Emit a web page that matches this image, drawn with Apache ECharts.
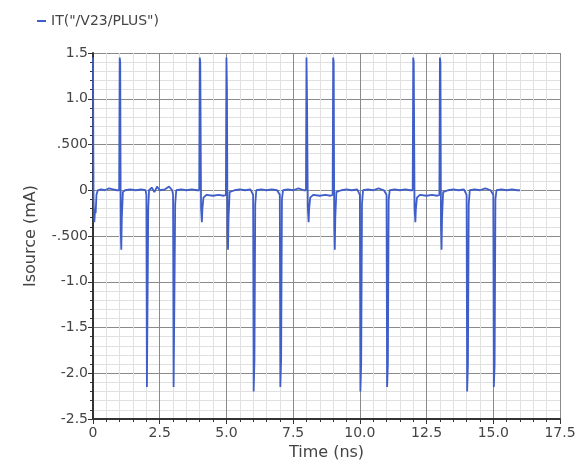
<!DOCTYPE html>
<html>
<head>
<meta charset="utf-8">
<script src="https://cdn.jsdelivr.net/npm/echarts@6/dist/echarts.min.js"></script>
<style>
  html, body { margin: 0; padding: 0; background: #fff; }
  #chart { width: 579px; height: 466px; }
</style>
</head>
<body>
<div id="chart"></div>
<script>
// transient current: time (ns) and Isource (mA)
const seriesName = 'IT("/V23/PLUS")'
const times = [
  0, 0.02, 0.05, 0.08, 0.1, 0.13, 0.18, 0.3, 0.45, 0.6, 0.75, 0.9, 0.98,
  1.0, 1.02, 1.04, 1.06, 1.08, 1.12, 1.2, 1.4, 1.6, 1.8, 1.97,
  2.0, 2.02, 2.05, 2.07, 2.1, 2.2, 2.3, 2.4, 2.5, 2.7, 2.85, 2.97,
  3.0, 3.02, 3.05, 3.08, 3.12, 3.3, 3.5, 3.7, 3.9, 3.98,
  4.0, 4.02, 4.05, 4.08, 4.1, 4.14, 4.25, 4.5, 4.7, 4.9, 4.98,
  5.0, 5.02, 5.04, 5.06, 5.08, 5.12, 5.3, 5.5, 5.7, 5.9, 5.97,
  6.0, 6.02, 6.05, 6.08, 6.12, 6.3, 6.5, 6.7, 6.9, 6.97,
  7.0, 7.02, 7.05, 7.08, 7.12, 7.3, 7.5, 7.7, 7.9, 7.98,
  8.0, 8.02, 8.05, 8.08, 8.1, 8.14, 8.25, 8.5, 8.7, 8.9, 8.98,
  9.0, 9.02, 9.04, 9.06, 9.08, 9.12, 9.3, 9.5, 9.7, 9.9, 9.97,
  10.0, 10.02, 10.05, 10.08, 10.12, 10.3, 10.5, 10.7, 10.9, 10.97,
  11.0, 11.02, 11.05, 11.08, 11.12, 11.3, 11.5, 11.7, 11.9, 11.98,
  12.0, 12.02, 12.05, 12.08, 12.1, 12.14, 12.25, 12.5, 12.7, 12.9, 12.98,
  13.0, 13.02, 13.04, 13.06, 13.08, 13.12, 13.3, 13.5, 13.7, 13.9, 13.97,
  14.0, 14.02, 14.05, 14.08, 14.12, 14.3, 14.5, 14.7, 14.9, 14.97,
  15.0, 15.02, 15.05, 15.08, 15.12, 15.3, 15.5, 15.7, 15.9, 16.0
]
const current = [
  1.45, -0.1, -0.35, -0.2, -0.25, -0.05, 0.0, 0.01, 0.0, 0.02, 0.01, 0.0, 0.0,
  1.45, 1.4, -0.45, -0.65, -0.3, -0.02, 0.0, 0.01, 0.0, 0.01, 0.0,
  -0.05, -2.15, -1.0, -0.2, 0.0, 0.03, -0.02, 0.04, 0.0, 0.01, 0.04, 0.0,
  -0.05, -2.15, -1.2, -0.15, 0.0, 0.01, 0.0, 0.01, 0.0, 0.0,
  1.45, 1.4, -0.2, -0.35, -0.2, -0.08, -0.05, -0.06, -0.05, -0.06, -0.05,
  1.45, 1.1, -0.4, -0.65, -0.3, -0.02, 0.0, 0.01, 0.0, 0.01, 0.0,
  -0.05, -2.2, -1.85, -0.15, 0.0, 0.01, 0.0, 0.01, 0.0, 0.0,
  -0.05, -2.15, -1.85, -0.1, 0.0, 0.01, 0.0, 0.02, 0.0, 0.0,
  1.45, 1.0, -0.2, -0.35, -0.2, -0.08, -0.05, -0.06, -0.05, -0.06, -0.05,
  1.45, 1.4, -0.4, -0.65, -0.3, -0.02, 0.0, 0.01, 0.0, 0.01, 0.0,
  -0.05, -2.2, -1.9, -0.15, 0.0, 0.01, 0.0, 0.02, 0.0, 0.0,
  -0.05, -2.15, -1.9, -0.1, 0.0, 0.01, 0.0, 0.01, 0.0, 0.0,
  1.45, 1.4, -0.2, -0.35, -0.2, -0.08, -0.05, -0.06, -0.05, -0.06, -0.05,
  1.45, 1.4, -0.4, -0.65, -0.3, -0.02, 0.0, 0.01, 0.0, 0.01, 0.0,
  -0.05, -2.2, -1.9, -0.15, 0.0, 0.01, 0.0, 0.02, 0.0, 0.0,
  -0.05, -2.15, -1.9, -0.1, 0.0, 0.01, 0.0, 0.01, 0.0, 0.0
]
const yTickLabels = { '1.5': '1.5', '1': '1.0', '0.5': '.500', '0': '0', '-0.5': '-.500', '-1': '-1.0', '-1.5': '-1.5', '-2': '-2.0', '-2.5': '-2.5' }
const xTickLabels = { '0': '0', '2.5': '2.5', '5': '5.0', '7.5': '7.5', '10': '10.0', '12.5': '12.5', '15': '15.0', '17.5': '17.5' }

const chart = echarts.init(document.getElementById('chart'))

const points = times.map((t, i) => [t, current[i]])

const font = 'DejaVu Sans'

chart.setOption({
  animation: false,
  textStyle: { fontFamily: font },
  legend: {
    left: 32,
    top: 9,
    icon: 'rect',
    itemWidth: 9,
    itemHeight: 2,
    itemGap: 4,
    textStyle: { color: '#444', fontSize: 14, fontFamily: font },
    data: [seriesName]
  },
  grid: { left: 93, right: 19, top: 53, bottom: 46 },
  xAxis: {
    type: 'value',
    min: 0,
    max: 17.5,
    interval: 2.5,
    name: 'Time (ns)',
    nameLocation: 'middle',
    nameGap: 26,
    nameTextStyle: { color: '#444', fontSize: 16 },
    axisLine: { onZero: false, lineStyle: { color: '#333', width: 2 } },
    axisTick: { show: true, length: 5, lineStyle: { color: '#333' } },
    minorTick: { show: true, splitNumber: 5, length: 3, lineStyle: { color: '#333' } },
    axisLabel: { color: '#444', fontSize: 14, margin: 7, formatter: v => xTickLabels[String(v)] ?? '' },
    splitLine: { show: true, lineStyle: { color: '#8a8a8a', width: 1 } },
    minorSplitLine: { show: true, lineStyle: { color: '#e0e0e0', width: 1 } }
  },
  yAxis: {
    type: 'value',
    min: -2.5,
    max: 1.5,
    interval: 0.5,
    name: 'Isource (mA)',
    nameLocation: 'middle',
    nameGap: 54,
    nameTextStyle: { color: '#444', fontSize: 16 },
    axisLine: { show: true, onZero: false, lineStyle: { color: '#333', width: 2 } },
    axisTick: { show: true, length: 5, lineStyle: { color: '#333' } },
    minorTick: { show: true, splitNumber: 5, length: 3, lineStyle: { color: '#333' } },
    axisLabel: { color: '#444', fontSize: 14, margin: 5, formatter: v => yTickLabels[String(v)] ?? '' },
    splitLine: { show: true, lineStyle: { color: '#8a8a8a', width: 1 } },
    minorSplitLine: { show: true, lineStyle: { color: '#e0e0e0', width: 1 } }
  },
  series: [
    {
      name: seriesName,
      type: 'line',
      data: points,
      showSymbol: false,
      color: '#3f5ec8',
      lineStyle: { width: 1.8 }
    }
  ]
})
</script>
</body>
</html>
